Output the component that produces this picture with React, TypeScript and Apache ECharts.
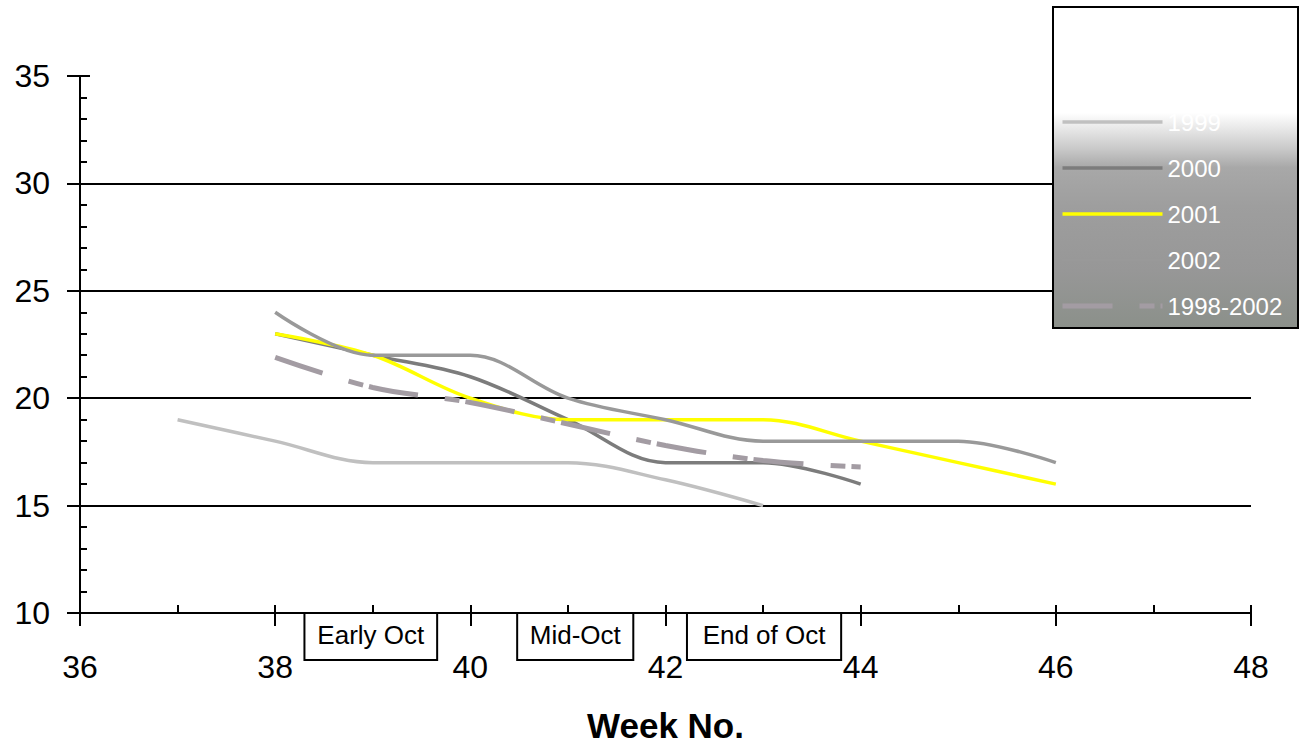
import React, { useEffect, useRef } from "react";
import * as echarts from "echarts";

// ---- data ----
const weeksLight = [37, 38, 39, 40, 41, 42, 43];
const s1999 = [19, 18, 17, 17, 17, 16.2, 15];
const weeks2000 = [38, 39, 40, 41, 42, 43, 44];
const s2000 = [23, 22, 21, 19, 17, 17, 16];
const weeksLong = [38, 39, 40, 41, 42, 43, 44, 45, 46];
const s2001 = [23, 22, 20, 19, 19, 19, 18, 17, 16];
const s2002 = [24, 22, 22, 20, 19, 18, 18, 18, 17];
const weeksAvg = [38, 39, 40, 41, 42, 43, 44];
const sAvg = [21.9, 20.5, 19.8, 18.8, 17.8, 17.1, 16.8];

const seriesNames = ["1999", "2000", "2001", "2002", "1998-2002"];
const periodLabels = ["Early Oct", "Mid-Oct", "End of Oct"];
const periodStart = [38.3, 40.48, 42.22];
const periodEnd = [39.66, 41.67, 43.8];

const FONT = "'Liberation Sans', Arial, sans-serif";

const pairs = (xs: number[], ys: number[]) => xs.map((x, i) => [x, ys[i]]);

export default function App() {
  const ref = useRef<HTMLDivElement>(null);
  useEffect(() => {
    if (!ref.current) return;
    const chart = echarts.init(ref.current, undefined, { renderer: "svg" });
    const lineBase = { type: "line", showSymbol: false, symbol: "none", smooth: 0.35, xAxisIndex: 0, yAxisIndex: 0 };
    const option: any = {
      animation: false,
      textStyle: { fontFamily: FONT },
      grid: { left: 80, right: 49, top: 76, bottom: 134, containLabel: false, outerBoundsMode: "none" },
      xAxis: [
        {
          type: "value",
          min: 36,
          max: 48,
          interval: 2,
          axisLine: { show: true, lineStyle: { color: "#000", width: 2 } },
          axisTick: { show: true, inside: false, length: 13, lineStyle: { color: "#000", width: 2 } },
          axisLabel: { color: "#000", fontSize: 32, margin: 38, fontFamily: FONT },
          splitLine: { show: false },
          name: "Week No.",
          nameLocation: "middle",
          nameGap: 95,
          nameTextStyle: { fontSize: 35, fontWeight: "bold", color: "#000", fontFamily: FONT },
        },
        {
          type: "value",
          min: 36,
          max: 48,
          interval: 1,
          position: "bottom",
          axisLine: { show: false },
          axisTick: { show: true, inside: true, length: 8, lineStyle: { color: "#000", width: 2 } },
          axisLabel: { show: false },
          splitLine: { show: false },
        },
      ],
      yAxis: [
        {
          type: "value",
          min: 10,
          max: 35,
          interval: 5,
          axisLine: { show: true, lineStyle: { color: "#000", width: 2 } },
          axisTick: { show: true, inside: false, length: 13, lineStyle: { color: "#000", width: 2 } },
          axisLabel: { color: "#000", fontSize: 32, margin: 30, fontFamily: FONT },
          splitLine: {
            show: true,
            lineStyle: { color: ["rgba(0,0,0,0)", "#000", "#000", "#000", "#000", "rgba(0,0,0,0)"], width: 2 },
          },
        },
        {
          type: "value",
          min: 10,
          max: 35,
          interval: 1,
          position: "left",
          axisLine: { show: false },
          axisTick: { show: true, inside: true, length: 7, lineStyle: { color: "#000", width: 2 } },
          axisLabel: { show: false },
          splitLine: { show: false },
        },
        {
          type: "value",
          min: 10,
          max: 35,
          interval: 5,
          position: "left",
          axisLine: { show: false },
          axisTick: { show: true, inside: true, length: 10, lineStyle: { color: "#000", width: 2 } },
          axisLabel: { show: false },
          splitLine: { show: false },
        },
      ],
      legend: {
        orient: "vertical",
        left: 1055,
        top: 105,
        z: 10,
        itemWidth: 100,
        itemHeight: 14,
        itemGap: 22,
        itemStyle: { opacity: 0 },
        lineStyle: { width: "inherit" },
        textStyle: { color: "#fff", fontSize: 24, fontFamily: FONT, lineHeight: 24 },
        data: seriesNames,
      },
      graphic: [
        {
          type: "rect",
          z: 5,
          shape: { x: 1053, y: 7, width: 245, height: 321 },
          style: {
            fill: new echarts.graphic.LinearGradient(0, 0, 0, 1, [
              { offset: 0, color: "#ffffff" },
              { offset: 0.33, color: "#ffffff" },
              { offset: 0.37, color: "#ececec" },
              { offset: 0.44, color: "#cacaca" },
              { offset: 0.5, color: "#a8a8a8" },
              { offset: 0.62, color: "#9e9e9e" },
              { offset: 0.82, color: "#979797" },
              { offset: 1, color: "#8b908a" },
            ]),
            stroke: "#000",
            lineWidth: 2,
          },
        },
      ],
      series: [
        { ...lineBase, name: seriesNames[0], data: pairs(weeksLight, s1999), lineStyle: { color: "#c0c0c0", width: 3.5 }, itemStyle: { color: "#c0c0c0" } },
        { ...lineBase, name: seriesNames[1], data: pairs(weeks2000, s2000), lineStyle: { color: "#7c7c7c", width: 3.5 }, itemStyle: { color: "#7c7c7c" } },
        { ...lineBase, name: seriesNames[2], data: pairs(weeksLong, s2001), lineStyle: { color: "#ffff00", width: 3.5 }, itemStyle: { color: "#ffff00" } },
        { ...lineBase, name: seriesNames[3], data: pairs(weeksLong, s2002), lineStyle: { color: "#999999", width: 3.5 }, itemStyle: { color: "#999999" } },
        {
          ...lineBase,
          name: seriesNames[4],
          data: pairs(weeksAvg, sAvg),
          lineStyle: { color: "#a39ca3", width: 5, type: [50, 27, 15, 6], cap: "butt" },
          itemStyle: { color: "#a39ca3" },
        },
      ],
    };
    chart.setOption(option);

    // annotation boxes under the x axis, positioned via the axis scale
    const axisY = chart.convertToPixel({ yAxisIndex: 0 }, 10) as number;
    const boxes = periodLabels.map((label, i) => {
      const x0 = chart.convertToPixel({ xAxisIndex: 0 }, periodStart[i]) as number;
      const x1 = chart.convertToPixel({ xAxisIndex: 0 }, periodEnd[i]) as number;
      return {
        type: "group",
        z: 20,
        children: [
          {
            type: "rect",
            shape: { x: x0, y: axisY, width: x1 - x0, height: 47 },
            style: { fill: "#fff", stroke: "#000", lineWidth: 2 },
            z: 20,
          },
          {
            type: "text",
            x: (x0 + x1) / 2,
            y: axisY + 22,
            z: 21,
            style: {
              text: label,
              fill: "#000",
              fontSize: 26,
              fontFamily: FONT,
              align: "center",
              verticalAlign: "middle",
            },
          },
        ],
      };
    });
    chart.setOption({ graphic: [option.graphic[0], ...boxes] }, { replaceMerge: ["graphic"] });

    return () => chart.dispose();
  }, []);
  return (
    <div
      ref={ref}
      style={{ position: "absolute", left: 0, top: 0, width: 1300, height: 747, background: "#fff" }}
    />
  );
}
